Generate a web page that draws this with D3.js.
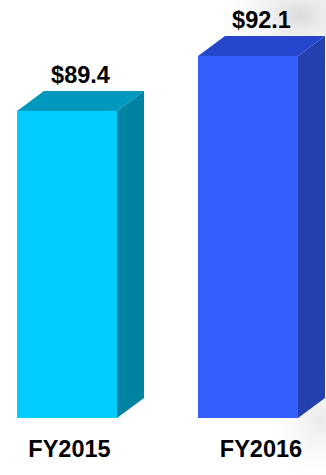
<!DOCTYPE html>
<html>
<head>
<meta charset="utf-8">
<script src="https://cdn.jsdelivr.net/npm/d3@7"></script>
<style>
  html, body { margin: 0; padding: 0; background: #fff; }
  svg { display: block; }
</style>
</head>
<body>
<svg id="chart" width="326" height="475"></svg>
<script>
// ---- data ----
const categories = ["FY2015", "FY2016"];
const values = [89.4, 92.1];
const valueLabels = ["$89.4", "$92.1"];
const frontColors = ["#00CCFF", "#335FFF"];
const topColors = ["#0099BD", "#2547CC"];
const sideColors = ["#0082A3", "#2241AE"];

const W = 326, H = 475;
const svg = d3.select("#chart");

// faint background photo hint
const defs = svg.append("defs");
const g1 = defs.append("radialGradient").attr("id", "bg1").attr("cx", "50%").attr("cy", "50%").attr("r", "50%");
g1.append("stop").attr("offset", "0%").attr("stop-color", "#bdbdbd").attr("stop-opacity", 0.55);
g1.append("stop").attr("offset", "100%").attr("stop-color", "#ffffff").attr("stop-opacity", 0);
const g2 = defs.append("radialGradient").attr("id", "bg2").attr("cx", "50%").attr("cy", "50%").attr("r", "50%");
g2.append("stop").attr("offset", "0%").attr("stop-color", "#d0d0d0").attr("stop-opacity", 0.45);
g2.append("stop").attr("offset", "100%").attr("stop-color", "#ffffff").attr("stop-opacity", 0);
svg.append("ellipse").attr("cx", 300).attr("cy", 15).attr("rx", 90).attr("ry", 60).attr("fill", "url(#bg1)");
svg.append("ellipse").attr("cx", 320).attr("cy", 420).attr("rx", 60).attr("ry", 70).attr("fill", "url(#bg2)");

// scales
const baseY = 418;
const y = d3.scaleLinear().domain([74.33, 92.1]).range([baseY, 56]);
const x = d3.scalePoint().domain(categories).range([67, 248]);
const xLabel = d3.scalePoint().domain(categories).range([69.5, 261]);
const barW = 100;
const dx = 27, dy = 20;

const bars = svg.selectAll("g.bar").data(categories).join("g").attr("class", "bar");

// side face
bars.append("path")
  .attr("fill", (d, i) => sideColors[i])
  .attr("d", (d, i) => {
    const xr = x(d) + barW / 2, yt = y(values[i]);
    return `M${xr},${yt}L${xr + dx},${yt - dy}L${xr + dx},${baseY - dy}L${xr},${baseY}Z`;
  });
// top face
bars.append("path")
  .attr("fill", (d, i) => topColors[i])
  .attr("d", (d, i) => {
    const xl = x(d) - barW / 2, xr = x(d) + barW / 2, yt = y(values[i]);
    return `M${xl},${yt}L${xl + dx},${yt - dy}L${xr + dx},${yt - dy}L${xr},${yt}Z`;
  });
// front face
bars.append("rect")
  .attr("fill", (d, i) => frontColors[i])
  .attr("x", d => x(d) - barW / 2)
  .attr("y", (d, i) => y(values[i]))
  .attr("width", barW)
  .attr("height", (d, i) => baseY - y(values[i]));

// value labels
bars.append("text")
  .attr("x", (d, i) => x(d) + dx / 2)
  .attr("y", (d, i) => y(values[i]) - dy - 8)
  .attr("text-anchor", "middle")
  .attr("font-family", "Liberation Sans, Arial, sans-serif")
  .attr("font-weight", "bold")
  .attr("font-size", 23.5)
  .attr("fill", "#000")
  .text((d, i) => valueLabels[i]);

// category labels
svg.selectAll("text.cat").data(categories).join("text")
  .attr("class", "cat")
  .attr("x", d => xLabel(d))
  .attr("y", 457)
  .attr("text-anchor", "middle")
  .attr("font-family", "Liberation Sans, Arial, sans-serif")
  .attr("font-weight", "bold")
  .attr("font-size", 23.5)
  .attr("fill", "#000")
  .text(d => d);
</script>
</body>
</html>
